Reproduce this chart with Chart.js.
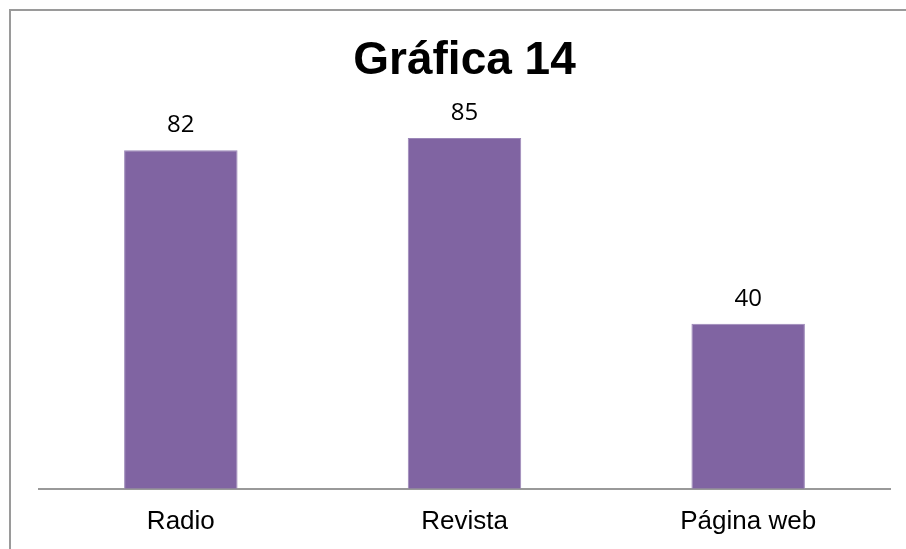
<!DOCTYPE html>
<html>
<head>
<meta charset="utf-8">
<script src="https://cdn.jsdelivr.net/npm/chart.js@4.4.0/dist/chart.umd.min.js"></script>
<style>
  html, body { margin: 0; padding: 0; background: #fff; }
  #wrap { position: relative; width: 906px; height: 549px; overflow: hidden; }
  #frame {
    position: absolute; left: 9px; top: 9px; width: 920px; height: 560px;
    border-top: 2px solid #9a9a9a; border-left: 2px solid #9a9a9a;
    box-sizing: border-box; pointer-events: none;
  }
  canvas { position: absolute; left: 0; top: 0; }
</style>
</head>
<body>
<div id="wrap">
  <canvas id="grafica" width="906" height="549"></canvas>
  <div id="frame"></div>
</div>
<script>
const categorias = ['Radio', 'Revista', 'Página web'];
const valores = [82, 85, 40];
const titulo = 'Gráfica 14';

// etiqueta con el valor encima de cada barra
const etiquetasValor = {
  id: 'etiquetasValor',
  afterDatasetsDraw(chart) {
    const ctx = chart.ctx;
    const meta = chart.getDatasetMeta(0);
    ctx.save();
    ctx.font = '24px "Open Sans"';
    ctx.fillStyle = '#000';
    ctx.textAlign = 'center';
    ctx.textBaseline = 'middle';
    meta.data.forEach((barra, i) => {
      ctx.fillText(String(valores[i]), barra.x, barra.y - 25);
    });
    ctx.restore();
  }
};

const ctx = document.getElementById('grafica').getContext('2d');
new Chart(ctx, {
  type: 'bar',
  data: {
    labels: categorias,
    datasets: [{
      data: valores,
      backgroundColor: '#8064A2',
      borderColor: '#9B87B8',
      borderWidth: 1,
      categoryPercentage: 0.4,
      barPercentage: 1
    }]
  },
  options: {
    responsive: false,
    animation: false,
    layout: { padding: { left: 39, right: 16, top: 38, bottom: -5 } },
    plugins: {
      legend: { display: false },
      tooltip: { enabled: false },
      title: {
        display: true,
        text: titulo,
        color: '#000',
        font: { family: '"Liberation Sans", Arial', size: 46, weight: 'bold', lineHeight: 1 },
        padding: { top: 0, bottom: -8 }
      }
    },
    scales: {
      y: { display: false, min: 0, max: 100 },
      x: {
        grid: { display: false, drawTicks: false },
        border: { display: true, color: '#999', width: 2 },
        ticks: {
          color: '#000',
          padding: 17,
          font: { family: '"Liberation Sans", Arial', size: 26 }
        }
      }
    }
  },
  plugins: [etiquetasValor]
});
</script>
</body>
</html>
